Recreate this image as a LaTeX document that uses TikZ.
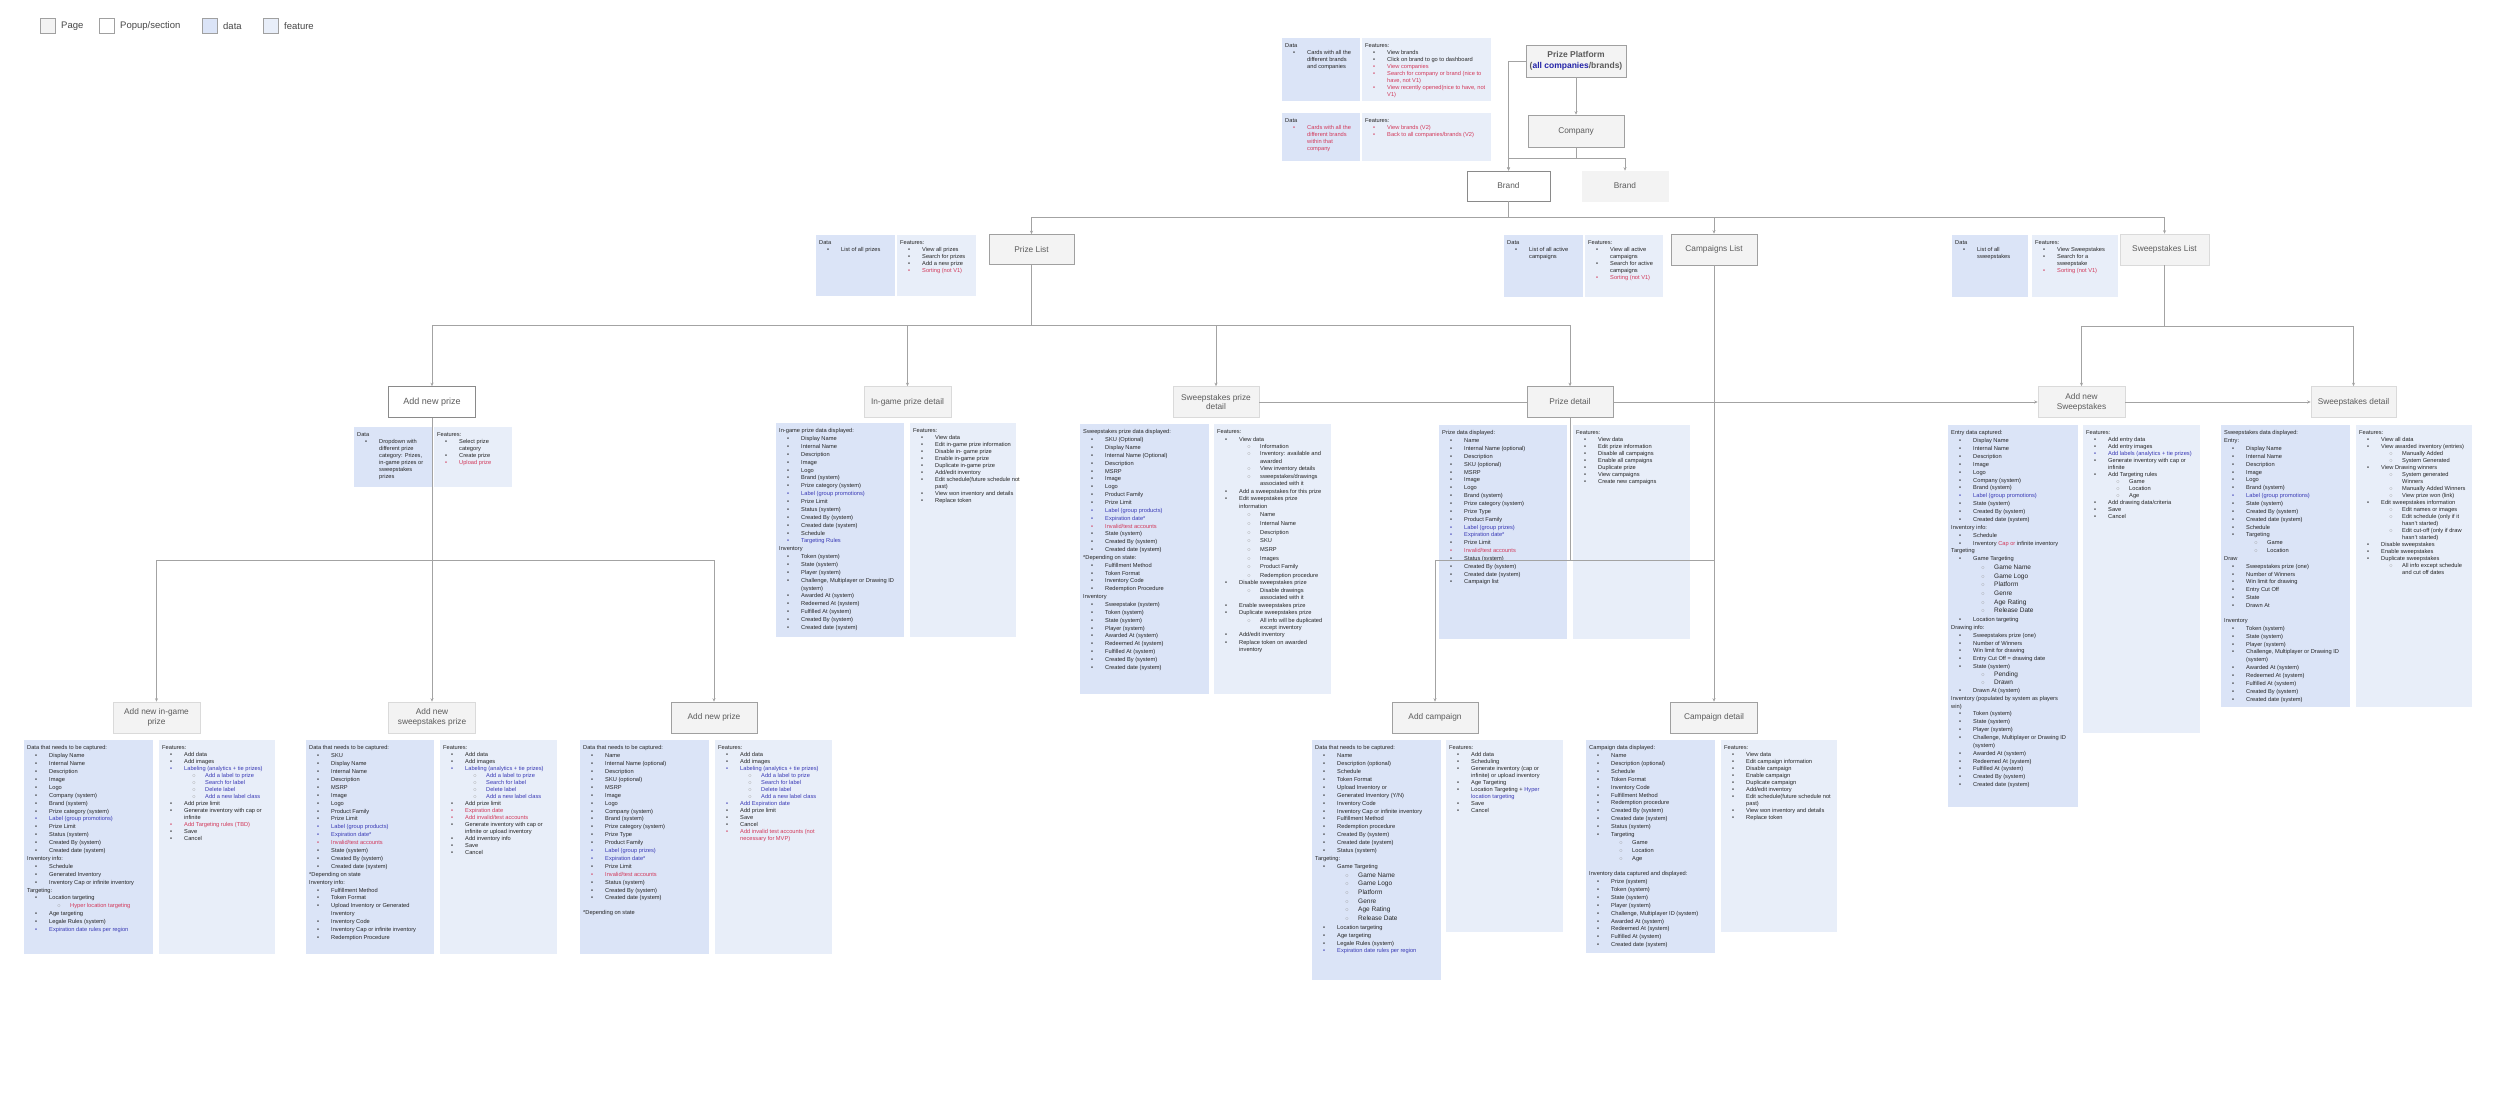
\documentclass[tikz,border=0pt]{standalone}
\usepackage{fontspec}
\setmainfont{Liberation Sans}
\usetikzlibrary{arrows.meta}
\definecolor{nodefill}{HTML}{F3F3F3}
\definecolor{nodeborder}{HTML}{A0A0A0}
\definecolor{liteborder}{HTML}{DADADA}
\definecolor{popborder}{HTML}{8A8A8A}
\definecolor{nodetext}{HTML}{5B5B5B}
\definecolor{textc}{HTML}{262626}
\definecolor{tred}{HTML}{D2395A}
\definecolor{tblue}{HTML}{3A3AB5}
\definecolor{pblue}{HTML}{2424A8}
\definecolor{datafill}{HTML}{DBE4F7}
\definecolor{featfill}{HTML}{E8EEF9}
\definecolor{linec}{HTML}{A3A3A3}
\definecolor{circ}{HTML}{9A9A9A}
\newcommand\xHd[1]{#1}
\newcommand\xBi[1]{\hspace*{8pt}\makebox[14pt][l]{\textbullet}#1}
\newcommand\xBc[1]{\hspace*{22pt}#1}
\newcommand\xSb[1]{\hspace*{30pt}\makebox[13pt][l]{\textcolor{circ}{$\circ$}}#1}
\newcommand\xSg[1]{\hspace*{30pt}\makebox[13pt][l]{\textcolor{circ}{$\circ$}}{\fontsize{6.5}{8}\selectfont #1}}
\newcommand\xSc[1]{\hspace*{43pt}#1}
\newcommand\xR[1]{\textcolor{tred}{#1}}
\newcommand\xU[1]{\textcolor{tblue}{#1}}
\newcommand\xpanel[7]{%
  \node[#1, minimum width=#4pt, minimum height=#5pt] (#2) at (#3) {};
  \node[txt, font=\fontsize{5.7}{#6}\selectfont] (#2t) at ([shift={(3,5.5)}]#2.north west) {#7};}
\tikzset{
  databox/.style={fill=datafill, draw=none, inner sep=0pt, anchor=north west},
  featbox/.style={fill=featfill, draw=none, inner sep=0pt, anchor=north west},
  txt/.style={anchor=north west, inner sep=0pt, align=left, text=textc},
  pagebox/.style={draw=nodeborder, fill=nodefill, line width=0.6pt, text=nodetext, font=\fontsize{8.3}{9.8}\selectfont, align=center, inner sep=1pt},
  pagelite/.style={pagebox, draw=liteborder},
  popbox/.style={pagebox, fill=white, draw=popborder},
  conn/.style={draw=linec, line width=0.6pt},
  arr/.style={conn, -{Stealth[length=3.5pt,width=3pt]}},
  legsq/.style={draw=nodeborder, minimum size=15pt, inner sep=0pt, line width=0.5pt},
  legtxt/.style={anchor=west, inner sep=0pt, font=\fontsize{9.5}{11}\selectfont, text=textc!85}
}
\begin{document}
\begin{tikzpicture}[x=1pt,y=-1pt]
\path[use as bounding box, fill=white] (0,0) rectangle (2500,1107);

% legend
\node[legsq, fill=nodefill] (lg1) at (48,26) {};
\node[legtxt] (lg1t) at (61,26) {Page};
\node[legsq, fill=white] (lg2) at (107,26) {};
\node[legtxt] (lg2t) at (120,26) {Popup/section};
\node[legsq, fill=datafill] (lg3) at (210,26) {};
\node[legtxt] (lg3t) at (223,26) {data};
\node[legsq, fill=featfill] (lg4) at (271,26) {};
\node[legtxt] (lg4t) at (284,26) {feature};

% ---------- top panels
\xpanel{databox}{dA}{1282,38}{78}{63}{7}{\xHd{Data}\\ \xBi{Cards with all the}\\ \xBc{different brands}\\ \xBc{and companies}}
\xpanel{featbox}{fA}{1362,38}{129}{63}{7}{\xHd{Features:}\\ \xBi{View brands}\\ \xBi{Click on brand to go to dashboard}\\ \xR{\xBi{View companies}}\\ \xR{\xBi{Search for company or brand (nice to}}\\ \xR{\xBc{have, not V1)}}\\ \xR{\xBi{View recently opened(nice to have, not}}\\ \xR{\xBc{V1)}}}
\xpanel{databox}{dB}{1282,113}{78}{48}{7}{\xHd{Data}\\ \xR{\xBi{Cards with all the}}\\ \xR{\xBc{different brands}}\\ \xR{\xBc{within that}}\\ \xR{\xBc{company}}}
\xpanel{featbox}{fB}{1362,113}{129}{48}{7}{\xHd{Features:}\\ \xR{\xBi{View brands (V2)}}\\ \xR{\xBi{Back to all companies/brands (V2)}}}

% list panels
\xpanel{databox}{dPL}{816,235}{79}{61}{7}{\xHd{Data}\\ \xBi{List of all prizes}}
\xpanel{featbox}{fPL}{897,235}{79}{61}{7}{\xHd{Features:}\\ \xBi{View all prizes}\\ \xBi{Search for prizes}\\ \xBi{Add a new prize}\\ \xR{\xBi{Sorting (not V1)}}}
\xpanel{databox}{dCL}{1504,235}{79}{62}{7}{\xHd{Data}\\ \xBi{List of all active}\\ \xBc{campaigns}}
\xpanel{featbox}{fCL}{1585,235}{78}{62}{7}{\xHd{Features:}\\ \xBi{View all active}\\ \xBc{campaigns}\\ \xBi{Search for active}\\ \xBc{campaigns}\\ \xR{\xBi{Sorting (not V1)}}}
\xpanel{databox}{dSL}{1952,235}{76}{62}{7}{\xHd{Data}\\ \xBi{List of all}\\ \xBc{sweepstakes}}
\xpanel{featbox}{fSL}{2032,235}{86}{62}{7}{\xHd{Features:}\\ \xBi{View Sweepstakes}\\ \xBi{Search for a}\\ \xBc{sweepstake}\\ \xR{\xBi{Sorting (not V1)}}}

% row 2 panels
\xpanel{databox}{dANP}{354,427}{78}{60}{7}{\xHd{Data}\\ \xBi{Dropdown with}\\ \xBc{different prize}\\ \xBc{category: Prizes,}\\ \xBc{in-game prizes or}\\ \xBc{sweepstakes}\\ \xBc{prizes}}
\xpanel{featbox}{fANP}{434,427}{78}{60}{7}{\xHd{Features:}\\ \xBi{Select prize}\\ \xBc{category}\\ \xBi{Create prize}\\ \xR{\xBi{Upload prize}}}

\xpanel{databox}{dIG}{776,423}{128}{214}{7.86}{\xHd{In-game prize data displayed:}\\ \xBi{Display Name}\\ \xBi{Internal Name}\\ \xBi{Description}\\ \xBi{Image}\\ \xBi{Logo}\\ \xBi{Brand (system)}\\ \xBi{Prize category (system)}\\ \xU{\xBi{Label (group promotions)}}\\ \xBi{Prize Limit}\\ \xBi{Status (system)}\\ \xBi{Created By  (system)}\\ \xBi{Created date  (system)}\\ \xBi{Schedule}\\ \xU{\xBi{Targeting Rules}}\\ \xHd{Inventory}\\ \xBi{Token (system)}\\ \xBi{State (system)}\\ \xBi{Player (system)}\\ \xBi{Challenge, Multiplayer or Drawing ID}\\ \xBc{(system)}\\ \xBi{Awarded At (system)}\\ \xBi{Redeemed At (system)}\\ \xBi{Fulfilled At (system)}\\ \xBi{Created By (system)}\\ \xBi{Created date (system)}}
\xpanel{featbox}{fIG}{910,423}{106}{214}{7}{\xHd{Features:}\\ \xBi{View data}\\ \xBi{Edit in-game prize information}\\ \xBi{Disable in- game prize}\\ \xBi{Enable in-game prize}\\ \xBi{Duplicate in-game prize}\\ \xBi{Add/edit inventory}\\ \xBi{Edit schedule(future schedule not}\\ \xBc{past)}\\ \xBi{View won inventory and details}\\ \xBi{Replace token}}

\xpanel{databox}{dSPD}{1080,424}{129}{270}{7.85}{\xHd{Sweepstakes prize data displayed:}\\ \xBi{SKU (Optional)}\\ \xBi{Display Name}\\ \xBi{Internal Name (Optional)}\\ \xBi{Description}\\ \xBi{MSRP}\\ \xBi{Image}\\ \xBi{Logo}\\ \xBi{Product Family}\\ \xBi{Prize Limit}\\ \xU{\xBi{Label (group products)}}\\ \xU{\xBi{Expiration date*}}\\ \xR{\xBi{Invalid/test accounts}}\\ \xBi{State  (system)}\\ \xBi{Created By  (system)}\\ \xBi{Created date  (system)}\\ \xHd{*Depending on state:}\\ \xBi{Fulfillment Method}\\ \xBi{Token Format}\\ \xBi{Inventory Code}\\ \xBi{Redemption Procedure}\\ \xHd{Inventory}\\ \xBi{Sweepstake (system)}\\ \xBi{Token (system)}\\ \xBi{State (system)}\\ \xBi{Player (system)}\\ \xBi{Awarded At (system)}\\ \xBi{Redeemed At (system)}\\ \xBi{Fulfilled At (system)}\\ \xBi{Created By (system)}\\ \xBi{Created date (system)}}
\xpanel{featbox}{fSPD}{1214,424}{117}{270}{7.45}{\xHd{Features:}\\ \xBi{View data}\\ \xSb{Information}\\ \xSb{Inventory: available and}\\ \xSc{awarded}\\ \xSb{View inventory details}\\ \xSb{sweepstakes/drawings}\\ \xSc{associated with it}\\ \xBi{Add a sweepstakes for this prize}\\ \xBi{Edit sweepstakes prize}\\ \xBc{information}\\[1.2pt] \xSb{Name}\\[1.2pt] \xSb{Internal Name}\\[1.2pt] \xSb{Description}\\[1.2pt] \xSb{SKU}\\[1.2pt] \xSb{MSRP}\\[1.2pt] \xSb{Images}\\[1.2pt] \xSb{Product Family}\\[1.2pt] \xSb{Redemption procedure}\\ \xBi{Disable sweepstakes prize}\\ \xSb{Disable drawings}\\ \xSc{associated with it}\\ \xBi{Enable sweepstakes prize}\\ \xBi{Duplicate sweepstakes prize}\\ \xSb{All info will be duplicated}\\ \xSc{except inventory}\\ \xBi{Add/edit inventory}\\ \xBi{Replace token on awarded}\\ \xBc{inventory}}

\xpanel{databox}{dPD}{1439,425}{128}{214}{7.85}{\xHd{Prize data displayed:}\\ \xBi{Name}\\ \xBi{Internal Name (optional)}\\ \xBi{Description}\\ \xBi{SKU (optional)}\\ \xBi{MSRP}\\ \xBi{Image}\\ \xBi{Logo}\\ \xBi{Brand (system)}\\ \xBi{Prize category (system)}\\ \xBi{Prize Type}\\ \xBi{Product Family}\\ \xU{\xBi{Label (group prizes)}}\\ \xU{\xBi{Expiration date*}}\\ \xBi{Prize Limit}\\ \xR{\xBi{Invalid/test accounts}}\\ \xBi{Status (system)}\\ \xBi{Created By  (system)}\\ \xBi{Created date  (system)}\\ \xBi{Campaign list}}
\xpanel{featbox}{fPD}{1573,425}{117}{214}{7}{\xHd{Features:}\\ \xBi{View data}\\ \xBi{Edit prize information}\\ \xBi{Disable all campaigns}\\ \xBi{Enable all campaigns}\\ \xBi{Duplicate prize}\\ \xBi{View campaigns}\\ \xBi{Create new campaigns}}

\xpanel{databox}{dANS}{1948,425}{130}{382}{7.87}{\xHd{Entry  data captured:}\\ \xBi{Display Name}\\ \xBi{Internal Name}\\ \xBi{Description}\\ \xBi{Image}\\ \xBi{Logo}\\ \xBi{Company (system)}\\ \xBi{Brand (system)}\\ \xU{\xBi{Label (group promotions)}}\\ \xBi{State  (system)}\\ \xBi{Created By  (system)}\\ \xBi{Created date  (system)}\\ \xHd{Inventory info:}\\ \xBi{Schedule}\\ \xBi{Inventory \xR{Cap or} infinite inventory}\\ \xHd{Targeting}\\ \xBi{Game Targeting}\\[0.8pt] \xSg{Game Name}\\[0.8pt] \xSg{Game Logo}\\[0.8pt] \xSg{Platform}\\[0.8pt] \xSg{Genre}\\[0.8pt] \xSg{Age Rating}\\[0.8pt] \xSg{Release Date}\\[0.8pt] \xBi{Location targeting}\\ \xHd{Drawing info:}\\ \xBi{Sweepstakes prize (one)}\\ \xBi{Number of Winners}\\ \xBi{Win limit for drawing}\\ \xBi{Entry Cut Off = drawing date}\\ \xBi{State (system)}\\ \xSg{Pending}\\ \xSg{Drawn}\\ \xBi{Drawn At (system)}\\ \xHd{Inventory (populated by system as players}\\ \xHd{win)}\\ \xBi{Token (system)}\\ \xBi{State (system)}\\ \xBi{Player (system)}\\ \xBi{Challenge, Multiplayer or Drawing ID}\\ \xBc{(system)}\\ \xBi{Awarded At (system)}\\ \xBi{Redeemed At (system)}\\ \xBi{Fulfilled At (system)}\\ \xBi{Created By (system)}\\ \xBi{Created date (system)}}
\xpanel{featbox}{fANS}{2083,425}{117}{308}{7}{\xHd{Features:}\\ \xBi{Add entry data}\\ \xBi{Add entry images}\\ \xU{\xBi{Add labels (analytics + tie prizes)}}\\ \xBi{Generate inventory with cap or}\\ \xBc{infinite}\\ \xBi{Add Targeting rules}\\ \xSb{Game}\\ \xSb{Location}\\ \xSb{Age}\\ \xBi{Add drawing data/criteria}\\ \xBi{Save}\\ \xBi{Cancel}}

\xpanel{databox}{dSD}{2221,425}{129}{282}{7.85}{\xHd{Sweepstakes data displayed:}\\ \xHd{Entry:}\\ \xBi{Display Name}\\ \xBi{Internal Name}\\ \xBi{Description}\\ \xBi{Image}\\ \xBi{Logo}\\ \xBi{Brand (system)}\\ \xU{\xBi{Label (group promotions)}}\\ \xBi{State  (system)}\\ \xBi{Created By  (system)}\\ \xBi{Created date  (system)}\\ \xBi{Schedule}\\ \xBi{Targeting}\\ \xSb{Game}\\ \xSb{Location}\\ \xHd{Draw}\\ \xBi{Sweepstakes prize (one)}\\ \xBi{Number of Winners}\\ \xBi{Win limit for drawing}\\ \xBi{Entry Cut Off}\\ \xBi{State}\\ \xBi{Drawn At}\\[7.2pt] \xHd{Inventory}\\ \xBi{Token (system)}\\ \xBi{State (system)}\\ \xBi{Player (system)}\\ \xBi{Challenge, Multiplayer or Drawing ID}\\ \xBc{(system)}\\ \xBi{Awarded At (system)}\\ \xBi{Redeemed At (system)}\\ \xBi{Fulfilled At (system)}\\ \xBi{Created By (system)}\\ \xBi{Created date (system)}}
\xpanel{featbox}{fSD}{2356,425}{116}{282}{7}{\xHd{Features:}\\ \xBi{View all data}\\ \xBi{View awarded inventory (entries)}\\ \xSb{Manually Added}\\ \xSb{System Generated}\\ \xBi{View Drawing winners}\\ \xSb{System generated}\\ \xSc{Winners}\\ \xSb{Manually Added Winners}\\ \xSb{View prize won (link)}\\ \xBi{Edit sweepstakes information}\\ \xSb{Edit names or images}\\ \xSb{Edit schedule (only if it}\\ \xSc{hasn't started)}\\ \xSb{Edit cut-off (only if draw}\\ \xSc{hasn't started)}\\ \xBi{Disable sweepstakes}\\ \xBi{Enable sweepstakes}\\ \xBi{Duplicate sweepstakes}\\ \xSb{All info except schedule}\\ \xSc{and cut off dates}}

% bottom panels
\xpanel{databox}{dANIG}{24,740}{129}{214}{7.9}{\xHd{Data that needs to be captured:}\\ \xBi{Display Name}\\ \xBi{Internal Name}\\ \xBi{Description}\\ \xBi{Image}\\ \xBi{Logo}\\ \xBi{Company (system)}\\ \xBi{Brand (system)}\\ \xBi{Prize category (system)}\\ \xU{\xBi{Label (group promotions)}}\\ \xBi{Prize Limit}\\ \xBi{Status (system)}\\ \xBi{Created By  (system)}\\ \xBi{Created date  (system)}\\ \xHd{Inventory info:}\\ \xBi{Schedule}\\ \xBi{Generated Inventory}\\ \xBi{Inventory Cap or infinite inventory}\\ \xHd{Targeting:}\\ \xBi{Location targeting}\\ \xR{\xSb{Hyper location targeting}}\\ \xBi{Age targeting}\\ \xBi{Legale Rules (system)}\\ \xU{\xBi{Expiration date rules per region}}}
\xpanel{featbox}{fANIG}{159,740}{116}{214}{7}{\xHd{Features:}\\ \xBi{Add data}\\ \xBi{Add images}\\ \xU{\xBi{Labeling (analytics + tie prizes)}}\\ \xU{\xSb{Add a label to prize}}\\ \xU{\xSb{Search for label}}\\ \xU{\xSb{Delete label}}\\ \xU{\xSb{Add a new label class}}\\ \xBi{Add prize limit}\\ \xBi{Generate inventory with cap or}\\ \xBc{infinite}\\ \xR{\xBi{Add Targeting rules (TBD)}}\\ \xBi{Save}\\ \xBi{Cancel}}

\xpanel{databox}{dANSP}{306,740}{128}{214}{7.9}{\xHd{Data that needs to be captured:}\\ \xBi{SKU}\\ \xBi{Display Name}\\ \xBi{Internal Name}\\ \xBi{Description}\\ \xBi{MSRP}\\ \xBi{Image}\\ \xBi{Logo}\\ \xBi{Product Family}\\ \xBi{Prize Limit}\\ \xU{\xBi{Label (group products)}}\\ \xU{\xBi{Expiration date*}}\\ \xR{\xBi{Invalid/test accounts}}\\ \xBi{State  (system)}\\ \xBi{Created By  (system)}\\ \xBi{Created date  (system)}\\ \xHd{*Depending on state}\\ \xHd{Inventory info:}\\ \xBi{Fulfillment Method}\\ \xBi{Token Format}\\ \xBi{Upload Inventory or Generated}\\ \xBc{Inventory}\\ \xBi{Inventory Code}\\ \xBi{Inventory Cap or infinite inventory}\\ \xBi{Redemption Procedure}}
\xpanel{featbox}{fANSP}{440,740}{117}{214}{7}{\xHd{Features:}\\ \xBi{Add data}\\ \xBi{Add images}\\ \xU{\xBi{Labeling (analytics + tie prizes)}}\\ \xU{\xSb{Add a label to prize}}\\ \xU{\xSb{Search for label}}\\ \xU{\xSb{Delete label}}\\ \xU{\xSb{Add a new label class}}\\ \xBi{Add prize limit}\\ \xR{\xBi{Expiration date}}\\ \xR{\xBi{Add invalid/test accounts}}\\ \xBi{Generate inventory with cap or}\\ \xBc{infinite or upload inventory}\\ \xBi{Add inventory info}\\ \xBi{Save}\\ \xBi{Cancel}}

\xpanel{databox}{dANP2}{580,740}{129}{214}{7.9}{\xHd{Data that needs to be captured:}\\ \xBi{Name}\\ \xBi{Internal Name (optional)}\\ \xBi{Description}\\ \xBi{SKU (optional)}\\ \xBi{MSRP}\\ \xBi{Image}\\ \xBi{Logo}\\ \xBi{Company (system)}\\ \xBi{Brand (system)}\\ \xBi{Prize category (system)}\\ \xBi{Prize Type}\\ \xBi{Product Family}\\ \xU{\xBi{Label (group prizes)}}\\ \xU{\xBi{Expiration date*}}\\ \xBi{Prize Limit}\\ \xR{\xBi{Invalid/test accounts}}\\ \xBi{Status (system)}\\ \xBi{Created By  (system)}\\ \xBi{Created date  (system)}\\[7pt] \xHd{*Depending on state}}
\xpanel{featbox}{fANP2}{715,740}{117}{214}{7}{\xHd{Features:}\\ \xBi{Add data}\\ \xBi{Add images}\\ \xU{\xBi{Labeling (analytics + tie prizes)}}\\ \xU{\xSb{Add a label to prize}}\\ \xU{\xSb{Search for label}}\\ \xU{\xSb{Delete label}}\\ \xU{\xSb{Add a new label class}}\\ \xU{\xBi{Add Expiration date}}\\ \xBi{Add prize limit}\\ \xBi{Save}\\ \xBi{Cancel}\\ \xR{\xBi{Add invalid test accounts (not}}\\ \xR{\xBc{necessary for MVP)}}}

\xpanel{databox}{dAC}{1312,740}{129}{240}{7.9}{\xHd{Data that needs to be captured:}\\ \xBi{Name}\\ \xBi{Description (optional)}\\ \xBi{Schedule}\\ \xBi{Token Format}\\ \xBi{Upload Inventory or}\\ \xBi{Generated Inventory (Y/N)}\\ \xBi{Inventory Code}\\ \xBi{Inventory Cap or infinite inventory}\\ \xBi{Fulfillment Method}\\ \xBi{Redemption procedure}\\ \xBi{Created By (system)}\\ \xBi{Created date (system)}\\ \xBi{Status (system)}\\ \xHd{Targeting:}\\ \xBi{Game Targeting}\\[0.8pt] \xSg{Game Name}\\[0.8pt] \xSg{Game Logo}\\[0.8pt] \xSg{Platform}\\[0.8pt] \xSg{Genre}\\[0.8pt] \xSg{Age Rating}\\[0.8pt] \xSg{Release Date}\\[0.8pt] \xBi{Location targeting}\\ \xBi{Age targeting}\\ \xBi{Legale Rules (system)}\\ \xU{\xBi{Expiration date rules per region}}}
\xpanel{featbox}{fAC}{1446,740}{117}{192}{7}{\xHd{Features:}\\ \xBi{Add data}\\ \xBi{Scheduling}\\ \xBi{Generate inventory (cap or}\\ \xBc{infinite) or upload inventory}\\ \xBi{Age Targeting}\\ \xBi{Location Targeting + \xU{Hyper}}\\ \xU{\xBc{location targeting}}\\ \xBi{Save}\\ \xBi{Cancel}}

\xpanel{databox}{dCD}{1586,740}{129}{213}{7.87}{\xHd{Campaign data displayed:}\\ \xBi{Name}\\ \xBi{Description (optional)}\\ \xBi{Schedule}\\ \xBi{Token Format}\\ \xBi{Inventory Code}\\ \xBi{Fulfillment Method}\\ \xBi{Redemption procedure}\\ \xBi{Created By (system)}\\ \xBi{Created date (system)}\\ \xBi{Status (system)}\\ \xBi{Targeting}\\ \xSb{Game}\\ \xSb{Location}\\ \xSb{Age}\\[7.9pt] \xHd{Inventory data captured and displayed:}\\ \xBi{Prize (system)}\\ \xBi{Token (system)}\\ \xBi{State (system)}\\ \xBi{Player (system)}\\ \xBi{Challenge, Multiplayer ID (system)}\\ \xBi{Awarded At (system)}\\ \xBi{Redeemed At (system)}\\ \xBi{Fulfilled At (system)}\\ \xBi{Created date (system)}}
\xpanel{featbox}{fCD}{1721,740}{116}{192}{7}{\xHd{Features:}\\ \xBi{View data}\\ \xBi{Edit campaign information}\\ \xBi{Disable campaign}\\ \xBi{Enable campaign}\\ \xBi{Duplicate campaign}\\ \xBi{Add/edit inventory}\\ \xBi{Edit schedule(future schedule not}\\ \xBc{past)}\\ \xBi{View won inventory and details}\\ \xBi{Replace token}}

% ---------- page nodes
\node[pagebox, minimum width=100pt, minimum height=32pt, font=\bfseries\fontsize{8.5}{10.5}\selectfont] (pp) at (1576,61) {Prize Platform\\(\textcolor{pblue}{all companies}/brands)};
\node[pagebox, minimum width=96pt, minimum height=32pt] (company) at (1576,131) {Company};
\node[popbox, minimum width=83pt, minimum height=30pt] (brand1) at (1508.5,186) {Brand};
\node[pagelite, minimum width=86pt, minimum height=30pt, draw=nodefill] (brand2) at (1625,186) {Brand};
\node[pagebox, minimum width=85pt, minimum height=30pt] (plist) at (1031.5,249.5) {Prize List};
\node[pagebox, minimum width=86pt, minimum height=31pt] (clist) at (1714,249.5) {Campaigns List};
\node[pagelite, minimum width=89pt, minimum height=31pt] (slist) at (2164.5,249.5) {Sweepstakes List};

\node[popbox, minimum width=87pt, minimum height=31pt, font=\fontsize{9}{10.5}\selectfont] (anp) at (432,402) {Add new prize};
\node[pagelite, minimum width=87pt, minimum height=31pt] (igpd) at (907.5,402) {In-game prize detail};
\node[pagelite, minimum width=86pt, minimum height=31pt] (spd) at (1216,402) {Sweepstakes prize\\detail};
\node[pagebox, minimum width=86pt, minimum height=31pt] (pd) at (1570,402) {Prize detail};
\node[pagelite, minimum width=87pt, minimum height=31pt] (ans) at (2081.5,402) {Add new\\Sweepstakes};
\node[pagelite, minimum width=85pt, minimum height=31pt] (sd) at (2353.5,402) {Sweepstakes detail};

\node[pagelite, minimum width=87pt, minimum height=31pt] (anigp) at (156.5,717.5) {Add new in-game\\prize};
\node[pagelite, minimum width=87pt, minimum height=31pt] (answp) at (432,717.5) {Add new\\sweepstakes prize};
\node[pagebox, minimum width=86pt, minimum height=31pt] (anp2) at (714,717.5) {Add new prize};
\node[pagebox, minimum width=86pt, minimum height=31pt] (ac) at (1435,717.5) {Add campaign};
\node[pagebox, minimum width=87pt, minimum height=31pt] (cd) at (1714,717.5) {Campaign detail};

% ---------- connectors
\draw[arr] (pp.south) -- (company.north);
\draw[arr] (pp.west) -| (brand1.north);
\draw[arr] (company.south) -- ++(0,11) -| (brand1.north);
\draw[arr] (company.south) -- ++(0,11) -| (brand2.north);

\draw[conn] (brand1.south) -- ++(0,16) coordinate (bj);
\draw[arr] (bj) -| (plist.north);
\draw[arr] (bj) -| (clist.north);
\draw[arr] (bj) -| (slist.north);

\draw[conn] (plist.south) -- ++(0,60.5) coordinate (pj);
\draw[arr] (pj) -| (anp.north);
\draw[arr] (pj) -| (igpd.north);
\draw[arr] (pj) -| (spd.north);
\draw[arr] (pj) -| (pd.north);

\draw[conn] (slist.south) -- ++(0,60.5) coordinate (sj);
\draw[arr] (sj) -| (ans.north);
\draw[arr] (sj) -| (sd.north);

\draw[conn] (spd.east) -- (pd.west);
\draw[arr] (pd.east) -- (ans.west);
\draw[arr] (ans.east) -- (sd.west);

\draw[arr] (clist.south) -- (cd.north);
\draw[conn] (pd.south) -- ++(0,142.5) coordinate (dj);
\draw[arr] (dj) -| (ac.north);
\draw[conn] (dj) -- (clist.south |- dj);

\draw[conn] (anp.south) -- ++(0,142.5) coordinate (aj);
\draw[arr] (aj) -| (anigp.north);
\draw[arr] (aj) -| (answp.north);
\draw[arr] (aj) -| (anp2.north);
\end{tikzpicture}
\end{document}
